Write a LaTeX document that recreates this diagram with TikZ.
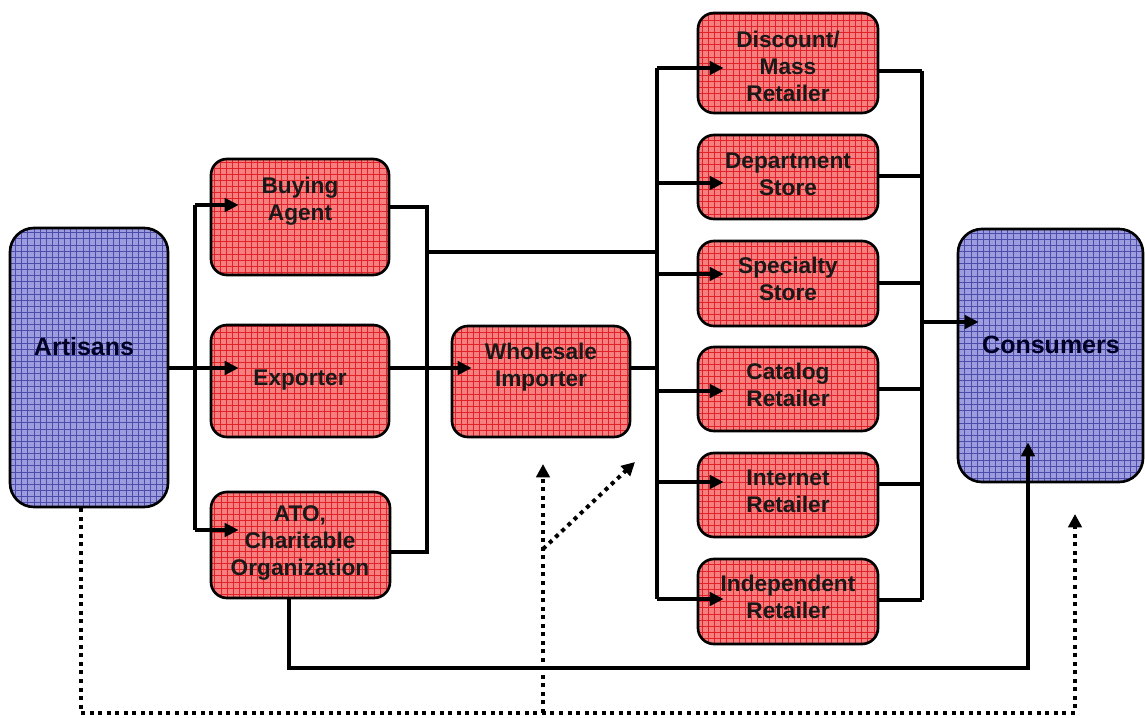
\documentclass[tikz,border=0pt]{standalone}
\usepackage{fontspec}
\setmainfont{Liberation Sans}
\usetikzlibrary{arrows.meta}
\definecolor{redfill}{RGB}{246,128,128}
\definecolor{redgrid}{RGB}{226,34,40}
\definecolor{bluefill}{RGB}{156,156,222}
\definecolor{bluegrid}{RGB}{76,76,170}
\begin{document}
\begin{tikzpicture}[x=0.75pt,y=-0.75pt,
  gridred/.style={path picture={\draw[redgrid,line width=0.4pt] (path picture bounding box.south west) grid[step=4.6pt] (path picture bounding box.north east);}},
  gridblue/.style={path picture={\draw[bluegrid,line width=0.4pt] (path picture bounding box.south west) grid[step=4.6pt] (path picture bounding box.north east);}},
  redbox/.style 2 args={draw=black,line width=2pt,rounded corners=12pt,fill=redfill,gridred,minimum width=#1*0.75pt,minimum height=#2*0.75pt,inner sep=0pt},
  bluebox/.style 2 args={draw=black,line width=2pt,rounded corners=18pt,fill=bluefill,gridblue,minimum width=#1*0.75pt,minimum height=#2*0.75pt,inner sep=0pt},
  txt/.style={font=\bfseries\fontsize{17pt}{20.25pt}\selectfont,align=center,text=black!90,inner sep=0pt},
  bigtxt/.style={font=\bfseries\fontsize{18.75pt}{22pt}\selectfont,align=center,text=black!85!blue,inner sep=0pt},
  ln/.style={line width=3pt,draw=black},
  arr/.style={ln,-{Triangle[length=10.5pt,width=10pt]}},
  dotln/.style={line width=3pt,draw=black,dash pattern=on 3pt off 3.4pt},
  dotarr/.style={dotln,-{Triangle[length=10pt,width=10pt]}}]
\useasboundingbox (0,0) rectangle (1145,717);
\fill[white] (0,0) rectangle (1145,717);

% boxes
\node[bluebox={158}{279}] (art) at (89,367.5) {};
\node[redbox={178}{116}] (ba) at (300,217) {};
\node[redbox={178}{112}] (ex) at (300,381) {};
\node[redbox={179}{106}] (ato) at (300.5,545) {};
\node[redbox={178}{111}] (wi) at (541,381.5) {};
\node[redbox={180}{100}] (dm) at (788,63) {};
\node[redbox={180}{84}] (ds) at (788,177) {};
\node[redbox={180}{85}] (ss) at (788,283.5) {};
\node[redbox={180}{84}] (cr) at (788,389) {};
\node[redbox={180}{84}] (ir) at (788,495) {};
\node[redbox={180}{85}] (id) at (788,601.5) {};
\node[bluebox={185}{253}] (con) at (1050.5,355.5) {};

% texts
\node[bigtxt] (artT) at (84,347) {Artisans};
\node[txt] (baT) at (300,201) {Buying\\Agent};
\node[txt] (exT) at (300,380) {Exporter};
\node[txt] (atoT) at (300,543) {ATO,\\Charitable\\Organization};
\node[txt] (wiT) at (541,367) {Wholesale\\Importer};
\node[txt] (dmT) at (788,66) {Discount/\\Mass\\Retailer};
\node[txt] (dsT) at (788,174) {Department\\Store};
\node[txt] (ssT) at (788,279) {Specialty\\Store};
\node[txt] (crT) at (788,385) {Catalog\\Retailer};
\node[txt] (irT) at (788,491) {Internet\\Retailer};
\node[txt] (idT) at (788,597) {Independent\\Retailer};
\node[bigtxt] (conT) at (1051,345) {Consumers};

% junction coordinates
\coordinate (lbT) at (195,205);
\coordinate (lbB) at (195,530);
\coordinate (jA) at (427,207);
\coordinate (jB) at (427,552);
\coordinate (jC) at (427,252);
\coordinate (mid) at (427,368);
\coordinate (rbT) at (657,68);
\coordinate (rbB) at (657,599);
\coordinate (cin) at (922,322);
\coordinate (atoS) at (289,598);
\coordinate (bot) at (1028,668);
\coordinate (dL) at (81,713);
\coordinate (dM) at (543,713);
\coordinate (dR) at (1075,713);
\coordinate (dRt) at (1075,514);
\coordinate (dMt) at (543,464);
\coordinate (dD) at (543,549);
\coordinate (dDt) at (635,462);

% Artisans to first tier
\draw[arr,shorten >=-21.75pt] (art.east |- mid) -- (ex.west |- mid);
\draw[ln] (lbT) -- (lbB);
\draw[arr,shorten >=-21.75pt] (lbT) -- (lbT -| ba.west);
\draw[arr,shorten >=-21.75pt] (lbB) -- (lbB -| ato.west);

% first tier outputs
\draw[ln] (ba.east |- jA) -- (jA) -- (jB) -- (ato.east |- jB);
\draw[ln] (jC) -- (jC -| rbT);
\draw[arr,shorten >=-15.75pt] (ex.east |- mid) -- (wi.west |- mid);
\draw[ln] (wi.east |- mid) -- (mid -| rbT);

% retailer bus
\draw[ln] (rbT) -- (rbB);
\foreach \y/\n in {68/dm,183/ds,274/ss,391/cr,482/ir,599/id}{
  \coordinate (a\n) at (657,\y);
  \draw[arr,shorten >=-20.25pt] (a\n) -- (a\n -| \n.west);
}
\foreach \y/\n in {71/dm,176/ds,283/ss,389/cr,484/ir,600/id}{
  \coordinate (b\n) at (922,\y);
  \draw[ln] (\n.east |- b\n) -- (b\n);
}
\draw[ln] (bdm) -- (bid);
\draw[arr,shorten >=-16.5pt] (cin) -- (cin -| con.west);

% ATO direct to consumers
\draw[arr,shorten >=-30.75pt] (atoS) -- (atoS |- bot) -- (bot) -- (bot |- con.south);

% dotted direct channels
\draw[dotarr] (art.south -| dL) -- (dL) -- (dR) -- (dRt);
\draw[dotarr] (dM) -- (dMt);
\draw[dotarr] (dD) -- (dDt);
\end{tikzpicture}
\end{document}
